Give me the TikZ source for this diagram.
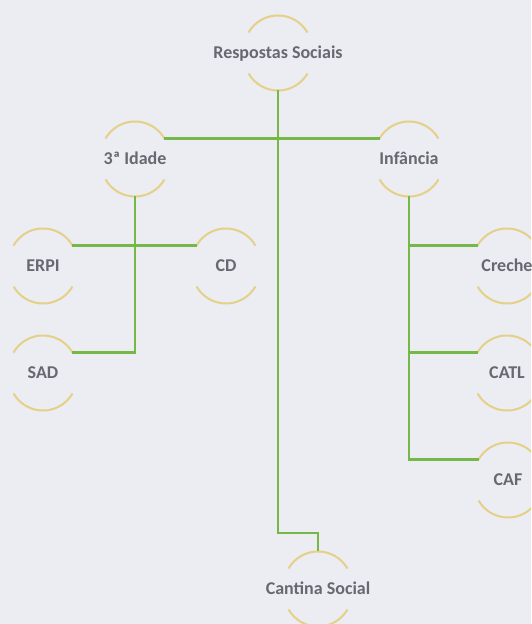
\documentclass[tikz,border=0pt]{standalone}
\usepackage{fontspec}
\setmainfont{Carlito}
\usetikzlibrary{calc}
\definecolor{bg}{RGB}{235,237,242}
\definecolor{lgreen}{RGB}{118,184,72}
\definecolor{arcgold}{RGB}{228,208,135}
\definecolor{txtgray}{RGB}{102,104,114}
\begin{document}
\begin{tikzpicture}[x=1pt,y=1pt,
  lbl/.style={inner sep=0pt,text=txtgray,font=\fontsize{18}{22}\selectfont\bfseries,text height=11.6pt,text depth=0pt},
  arcline/.style={draw=arcgold,line width=2pt},
  conn/.style={draw=lgreen,line width=2.6pt}]
\useasboundingbox (0,0) rectangle (531,624);
\fill[bg] (0,0) rectangle (531,624);
\begin{scope}
\clip (0,0) rectangle (531,624);
\node[lbl] (RS) at (278,571) {Respostas Sociais};
\node[lbl] (ID) at (135,465) {3ª Idade};
\node[lbl] (IN) at (409,465) {Infância};
\node[lbl] (ERPI) at (43,358) {ERPI};
\node[lbl] (CD) at (226,358) {CD};
\node[lbl] (SAD) at (43,251) {SAD};
\node[lbl] (CR) at (507,358) {Creche};
\node[lbl] (CATL) at (507,251) {CATL};
\node[lbl] (CAF) at (508,144) {CAF};
\node[lbl] (CS) at (318,35) {Cantina Social};
\foreach \n in {RS,ID,IN,ERPI,CD,SAD,CR,CATL,CAF,CS}{
  \draw[arcline] ($(\n.center)+(29.4,20.5)$) arc[start angle=30,end angle=150,radius=34];
  \draw[arcline] ($(\n.center)+(-29.4,-20.5)$) arc[start angle=210,end angle=330,radius=34];
  \coordinate (\n-tl) at ($(\n.center)+(-29.4,20.5)$);
  \coordinate (\n-tr) at ($(\n.center)+(29.4,20.5)$);
  \coordinate (\n-t) at ($(\n.center)+(0,37.5)$);
  \coordinate (\n-b) at ($(\n.center)+(0,-37.5)$);
}
\coordinate (k1) at (278,91);
% connectors
\draw[conn] (RS-b) -- (k1) -| (CS-t);
\draw[conn] (ID-tr) -- (IN-tl);
\draw[conn] (ID-b) |- (SAD-tr);
\draw[conn] (ERPI-tr) -- (CD-tl);
\draw[conn] (IN-b) |- (CAF-tl);
\draw[conn] (CR-tl) -- (CR-tl -| IN-b);
\draw[conn] (CATL-tl) -- (CATL-tl -| IN-b);
\end{scope}
\end{tikzpicture}
\end{document}
